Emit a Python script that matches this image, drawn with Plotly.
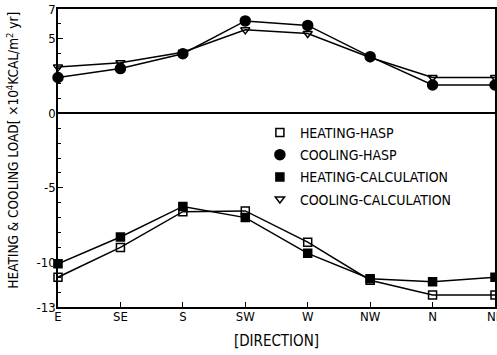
import plotly.graph_objects as go

directions = ["E", "SE", "S", "SW", "W", "NW", "N", "NE"]
heating_hasp = [-11.0, -9.0, -6.6, -6.55, -8.65, -11.2, -12.2, -12.2]
cooling_hasp = [2.4, 3.0, 4.0, 6.2, 5.9, 3.8, 1.9, 1.9]
heating_calc = [-10.1, -8.3, -6.25, -7.0, -9.4, -11.1, -11.3, -11.0]
cooling_calc = [3.1, 3.4, 4.1, 5.6, 5.35, 3.75, 2.4, 2.4]
y_tickvals = [7, 5, 0, -5, -10, -13]
y_ticktext = ["7", "5", "0", "-5", "-10", "-13"]

FONT = "DejaVu Sans Condensed, DejaVu Sans, sans-serif"

series = [
    ("HEATING-HASP", heating_hasp, "square-open", 8),
    ("COOLING-HASP", cooling_hasp, "circle", 10),
    ("HEATING-CALCULATION", heating_calc, "square", 8),
    ("COOLING-CALCULATION", cooling_calc, "triangle-down-open", 8),
]

fig = go.Figure()
for i, (name, vals, sym, sz) in enumerate(series):
    mk = dict(symbol=sym, size=sz, color="black",
              line=dict(color="black", width=1.5))
    fig.add_trace(go.Scatter(
        x=directions, y=vals, name=name, mode="lines+markers",
        showlegend=False, cliponaxis=False,
        line=dict(color="black", width=1.5), marker=mk,
    ))
    # legend entry (marker only, as in the reference)
    fig.add_trace(go.Scatter(
        x=[None], y=[None], name=name, mode="markers",
        legendgroup=f"g{i}", marker=mk, showlegend=True,
    ))

fig.update_layout(
    width=497, height=355,
    margin=dict(l=58, r=2, t=9, b=48),
    paper_bgcolor="white", plot_bgcolor="white",
    font=dict(family=FONT, size=13, color="black"),
    showlegend=True,
    legend=dict(x=0.462, y=0.638, xanchor="left", yanchor="top",
                bgcolor="rgba(0,0,0,0)", tracegroupgap=1,
                font=dict(size=14), itemwidth=30),
    xaxis=dict(
        type="category", range=[0, 7], showline=True, linecolor="black",
        linewidth=1.5, mirror=True, ticks="inside", ticklen=5,
        tickcolor="black", showgrid=False, zeroline=False,
        automargin=False, tickfont=dict(size=13), ticklabelstandoff=-3,
        title=dict(text="[DIRECTION]", font=dict(size=15), standoff=12),
    ),
    yaxis=dict(
        range=[-13, 7], tickvals=y_tickvals, ticktext=y_ticktext,
        showline=True, linecolor="black", linewidth=1.5, mirror=True,
        ticks="inside", ticklen=5, tickcolor="black", showgrid=False,
        zeroline=True, zerolinecolor="black", zerolinewidth=1.5,
        minor=dict(dtick=1, ticks="inside", ticklen=3, tickcolor="black"),
        automargin=False, tickfont=dict(size=13), ticklabelstandoff=-2,
    ),
    annotations=[dict(
        text="HEATING &amp; COOLING LOAD[ ×10<sup>4</sup>KCAL/m<sup>2</sup> yr]",
        xref="paper", yref="paper", x=-0.105, y=0.525,
        xanchor="center", yanchor="middle", textangle=-90,
        showarrow=False, font=dict(size=13.5),
    )],
)

fig.write_html(
    "out.html",
    config={"displayModeBar": False},
    post_script="document.body.style.margin='0';document.body.style.overflow='hidden';",
)
